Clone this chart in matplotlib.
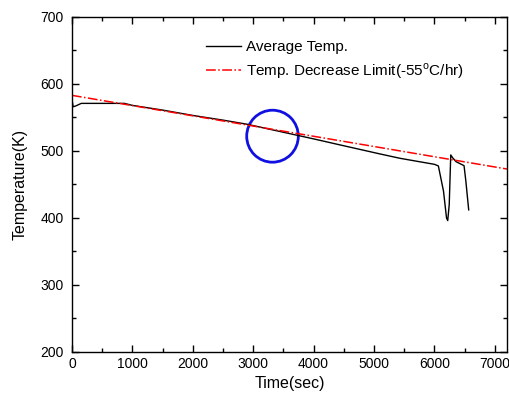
import matplotlib
matplotlib.use("Agg")
import matplotlib.pyplot as plt
import matplotlib.patches as mpatches
from matplotlib.ticker import MultipleLocator
import numpy as np

plt.rcParams["font.family"] = ["Liberation Sans", "DejaVu Sans"]
plt.rcParams["mathtext.fontset"] = "custom"
plt.rcParams["mathtext.rm"] = "Liberation Sans"

# measured average temperature
time_sec = [0, 20, 60, 155, 400, 870, 1000, 1500, 2000, 2500, 2890, 3444,
            4000, 4437, 5100, 5430, 6000, 6065, 6150, 6200, 6220, 6245,
            6270, 6300, 6357, 6490, 6520, 6567]
avg_temp = [578, 566, 567, 571, 571, 571, 568, 561, 553, 546, 540, 529,
            518, 509, 495.5, 489, 480, 477.6, 440, 400, 396, 420,
            494, 490, 484, 478, 455, 412]

# decrease limit line (-55 C/hr)
limit_time = [0, 7200]
limit_temp = [583, 473]

# marked region
circle_center = (3320, 522)
circle_size = (854, 77.6)

fig = plt.figure(figsize=(5.1, 4.04), dpi=100)
ax = fig.add_axes([0.141, 0.129, 0.853, 0.829])

ax.plot(time_sec, avg_temp, color="black", lw=1.0, label="Average Temp.")
ax.plot(limit_time, limit_temp, color="red", lw=1.1, ls="-.",
        label="Temp. Decrease Limit(-55$^{\\rm o}$C/hr)")

ax.add_patch(mpatches.Ellipse(circle_center, circle_size[0], circle_size[1],
                              fill=False, edgecolor="#1010e0", lw=2.0))

ax.set_xlim(0, 7200)
ax.set_ylim(200, 700)
ax.xaxis.set_major_locator(MultipleLocator(1000))
ax.xaxis.set_minor_locator(MultipleLocator(500))
ax.yaxis.set_major_locator(MultipleLocator(100))
ax.yaxis.set_minor_locator(MultipleLocator(50))
ax.tick_params(which="both", direction="in", top=True, right=True,
               labelsize=10, width=1.0)
ax.tick_params(which="major", length=5)
ax.tick_params(which="minor", length=3)
ax.tick_params(axis="y", pad=6)
for s in ax.spines.values():
    s.set_linewidth(1.0)

ax.set_xlabel("Time(sec)", fontsize=11.5, labelpad=4)
ax.set_ylabel("Temperature(K)", fontsize=11.5, labelpad=9)

ax.legend(loc="upper left", bbox_to_anchor=(0.276, 0.971), frameon=False,
          fontsize=11, handlelength=2.3, handletextpad=0.35, labelspacing=0.45)

plt.savefig("out.png", dpi=100)
